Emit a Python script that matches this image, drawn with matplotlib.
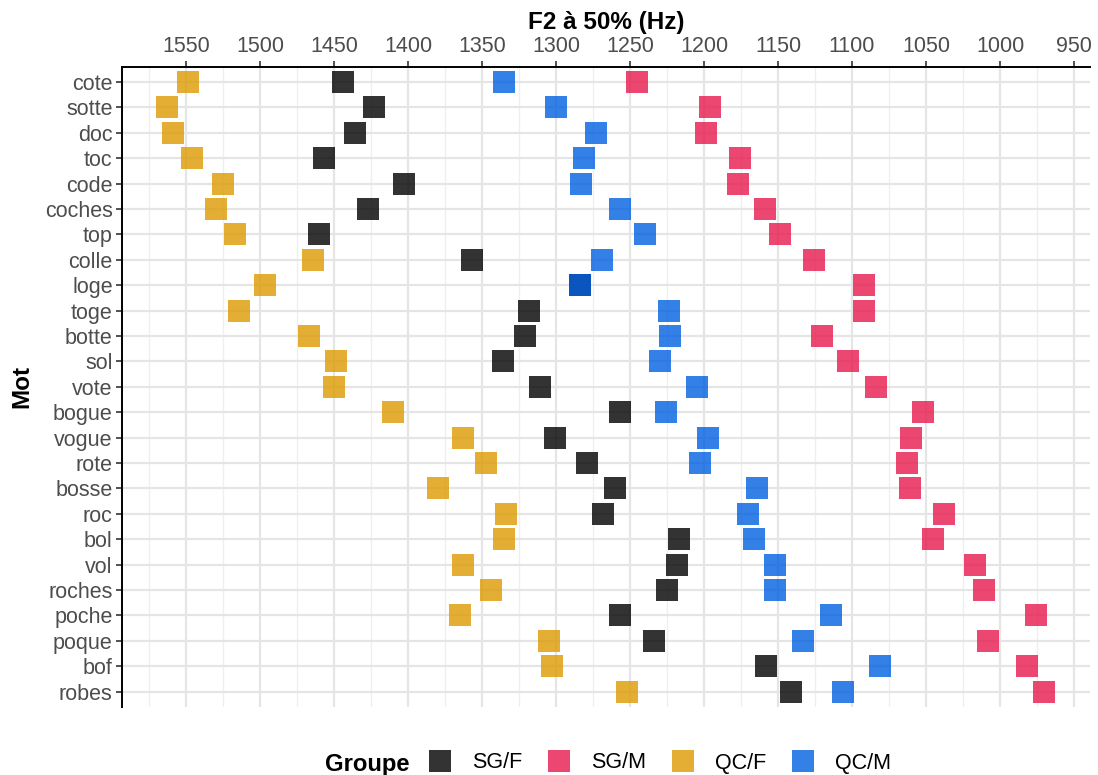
import matplotlib
matplotlib.use("Agg")
import matplotlib.pyplot as plt
from matplotlib.ticker import MultipleLocator
from matplotlib.lines import Line2D

plt.rcParams['font.family'] = ['Liberation Sans', 'DejaVu Sans']

words = ["cote", "sotte", "doc", "toc", "code", "coches", "top", "colle", "loge",
         "toge", "botte", "sol", "vote", "bogue", "vogue", "rote", "bosse", "roc",
         "bol", "vol", "roches", "poche", "poque", "bof", "robes"]

sg_f = [1444, 1423, 1436, 1457, 1403, 1427, 1460, 1357, 1284, 1318, 1321, 1336, 1311,
        1257, 1301, 1279, 1260, 1268, 1217, 1218, 1225, 1257, 1234, 1158, 1141]
sg_m = [1245, 1196, 1199, 1176, 1177, 1159, 1149, 1126, 1092, 1092, 1120, 1103, 1084,
        1052, 1060, 1063, 1061, 1038, 1045, 1017, 1011, 976, 1008, 982, 970]
qc_f = [1549, 1563, 1559, 1546, 1525, 1530, 1517, 1464, 1497, 1514, 1467, 1449, 1450,
        1410, 1363, 1347, 1380, 1334, 1335, 1363, 1344, 1365, 1305, 1303, 1252]
qc_m = [1335, 1300, 1273, 1281, 1283, 1257, 1240, 1269, 1284, 1224, 1223, 1230, 1205,
        1226, 1197, 1203, 1164, 1170, 1166, 1152, 1152, 1114, 1133, 1081, 1106]

groups = ["SG/F", "SG/M", "QC/F", "QC/M"]
colors = ["#000000", "#E7194C", "#DC9A00", "#0060E2"]

fig = plt.figure(figsize=(10.98, 7.75), dpi=100)
ax = fig.add_axes([0.1115, 0.088, 0.8815, 0.826])

ypos = list(range(len(words)))
for vals, lab, col in zip([sg_f, sg_m, qc_f, qc_m], groups, colors):
    ax.scatter(vals, ypos, marker="s", s=270, color=col, alpha=0.8,
               linewidths=0, label=lab, zorder=3)

ax.set_xlim(1593, 939)
ax.set_ylim(len(words) - 0.4, -0.6)
ax.set_yticks(ypos)
ax.set_yticklabels(words)

ax.xaxis.set_minor_locator(MultipleLocator(25))
ax.xaxis.tick_top()
ax.xaxis.set_label_position("top")
ax.set_xticks(range(950, 1551, 50))

ax.grid(which="major", color="#E5E5E5", linewidth=1.6, zorder=0)
ax.grid(which="minor", axis="x", color="#EFEFEF", linewidth=0.9, zorder=0)
ax.set_axisbelow(True)

for side in ["right", "bottom"]:
    ax.spines[side].set_visible(False)
for side in ["left", "top"]:
    ax.spines[side].set_linewidth(1.4)
    ax.spines[side].set_color("black")

ax.tick_params(axis="both", which="major", labelsize=15.5, labelcolor="#4D4D4D",
               length=4, width=1.2, color="#333333", pad=3)
ax.tick_params(axis="x", which="minor", length=0)

ax.set_xlabel("F2 à 50% (Hz)", fontsize=17.5, fontweight="bold", labelpad=5)
ax.set_ylabel("Mot", fontsize=17.5, fontweight="bold", labelpad=8)

handles = [Line2D([], [], marker="s", linestyle="", markersize=16.5, color=c,
                  alpha=0.8, markeredgewidth=0) for c in colors]
fig.text(325 / 1098, 4 / 775, "Groupe", fontsize=17.2, fontweight="bold", va="baseline")
fig.legend(handles, groups, loc="center left", bbox_to_anchor=(428 / 1098, 12 / 775),
           ncol=4, frameon=False, fontsize=15.5, handletextpad=0.95,
           columnspacing=1.15, handlelength=1.1, borderpad=0, borderaxespad=0)

fig.savefig("out.png", dpi=100)
